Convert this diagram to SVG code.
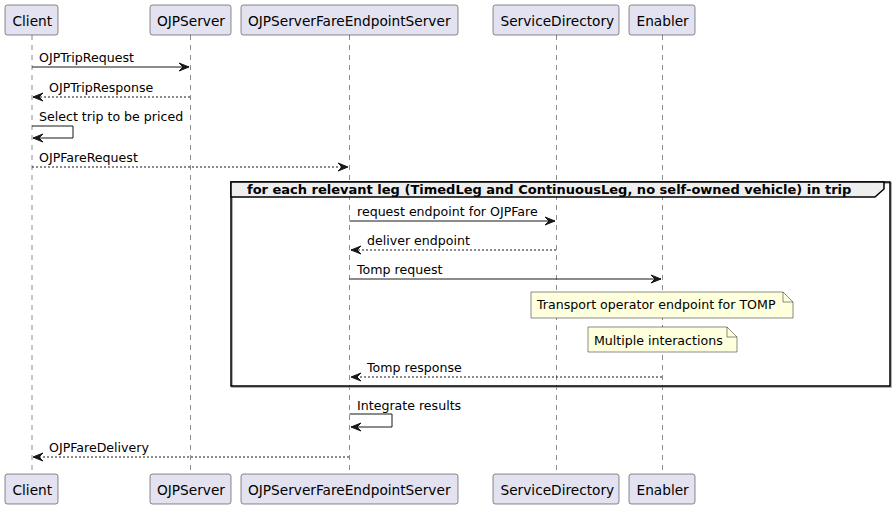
<svg xmlns="http://www.w3.org/2000/svg" width="895" height="509" viewBox="0 0 895 509">
<defs>
<style>
.part{fill:#E2E2F0;stroke:#181818;stroke-width:0.5}
.pt{font-family:"DejaVu Sans",sans-serif;font-size:13.7px;fill:#000}
.life{stroke:#181818;stroke-width:0.5;stroke-dasharray:5,5;fill:none}
.msg{stroke:#181818;stroke-width:1;fill:none}
.dash{stroke-dasharray:2,2}
.mt{font-family:"DejaVu Sans",sans-serif;font-size:12.6px;fill:#000}
.note{fill:#FEFFDD;stroke:#181818;stroke-width:0.5}
.frame{fill:none;stroke:#000;stroke-width:1.5}
.hdr{fill:#EEEEEE;stroke:#000;stroke-width:1.5}
.ht{font-family:"DejaVu Sans",sans-serif;font-size:13px;font-weight:bold;fill:#000}
</style>
<marker id="ah" markerUnits="userSpaceOnUse" markerWidth="14" markerHeight="12" refX="11" refY="5" orient="auto">
<path d="M1,1 L11,5 L1,9 L5,5 Z" fill="#181818" stroke="#181818" stroke-width="1" stroke-linejoin="miter"/>
</marker>
</defs>
<rect width="895" height="509" fill="#FFFFFF"/>

<g id="lifelines">
<line class="life" x1="32" y1="35" x2="32" y2="474"/>
<line class="life" x1="190.5" y1="35" x2="190.5" y2="474"/>
<line class="life" x1="349.5" y1="35" x2="349.5" y2="474"/>
<line class="life" x1="556.5" y1="35" x2="556.5" y2="474"/>
<line class="life" x1="662.5" y1="35" x2="662.5" y2="474"/>
</g>

<g id="loop">
<rect x="232" y="183" width="659" height="204" fill="none" stroke="#999" stroke-width="1.5"/>
<rect class="frame" x="231" y="182" width="659" height="204"/>
<polygon class="hdr" points="231,182 884,182 884,189 875,197 231,197"/>
<text class="ht" x="247" y="194">for each relevant leg (TimedLeg and ContinuousLeg, no self-owned vehicle) in trip</text>
</g>

<g id="Client">
<rect class="part" x="5" y="5" width="53" height="30" rx="2.5"/>
<text class="pt" x="12.5" y="25.5">Client</text>
<rect class="part" x="5" y="474" width="53" height="30" rx="2.5"/>
<text class="pt" x="12.5" y="494.5">Client</text>
</g>
<g id="OJPServer">
<rect class="part" x="150" y="5" width="81" height="30" rx="2.5"/>
<text class="pt" x="157" y="25.5">OJPServer</text>
<rect class="part" x="150" y="474" width="81" height="30" rx="2.5"/>
<text class="pt" x="157" y="494.5">OJPServer</text>
</g>
<g id="OJPServerFareEndpointServer">
<rect class="part" x="241" y="5" width="217" height="30" rx="2.5"/>
<text class="pt" x="248" y="25.5">OJPServerFareEndpointServer</text>
<rect class="part" x="241" y="474" width="217" height="30" rx="2.5"/>
<text class="pt" x="248" y="494.5">OJPServerFareEndpointServer</text>
</g>
<g id="ServiceDirectory">
<rect class="part" x="493" y="5" width="126" height="30" rx="2.5"/>
<text class="pt" x="500.5" y="25.5">ServiceDirectory</text>
<rect class="part" x="493" y="474" width="126" height="30" rx="2.5"/>
<text class="pt" x="500.5" y="494.5">ServiceDirectory</text>
</g>
<g id="Enabler">
<rect class="part" x="629" y="5" width="66" height="30" rx="2.5"/>
<text class="pt" x="636.5" y="25.5">Enabler</text>
<rect class="part" x="629" y="474" width="66" height="30" rx="2.5"/>
<text class="pt" x="636.5" y="494.5">Enabler</text>
</g>

<g id="note1">
<path class="note" d="M531,292 L783,292 L793,302 L793,318 L531,318 Z"/>
<path d="M783,292 L783,302 L793,302" fill="none" stroke="#181818" stroke-width="0.5"/>
<text class="mt" x="537" y="309">Transport operator endpoint for TOMP</text>
</g>
<g id="note2">
<path class="note" d="M588,327 L727,327 L737,337 L737,352 L588,352 Z"/>
<path d="M727,327 L727,337 L737,337" fill="none" stroke="#181818" stroke-width="0.5"/>
<text class="mt" x="594" y="345">Multiple interactions</text>
</g>

<g id="connectors">
<line class="msg" x1="32" y1="67" x2="189" y2="67" marker-end="url(#ah)"/>
<text class="mt" x="39" y="62">OJPTripRequest</text>

<line class="msg dash" x1="190" y1="97" x2="33" y2="97" marker-end="url(#ah)"/>
<text class="mt" x="49" y="92">OJPTripResponse</text>

<polyline class="msg" points="32,126 73,126 73,138 33,138" marker-end="url(#ah)"/>
<text class="mt" x="39" y="121">Select trip to be priced</text>

<line class="msg dash" x1="32" y1="167" x2="348" y2="167" marker-end="url(#ah)"/>
<text class="mt" x="39" y="162">OJPFareRequest</text>

<line class="msg" x1="349.5" y1="221" x2="555" y2="221" marker-end="url(#ah)"/>
<text class="mt" x="357" y="216">request endpoint for OJPFare</text>

<line class="msg dash" x1="556" y1="250" x2="351" y2="250" marker-end="url(#ah)"/>
<text class="mt" x="367" y="245">deliver endpoint</text>

<line class="msg" x1="349.5" y1="279" x2="661" y2="279" marker-end="url(#ah)"/>
<text class="mt" x="357" y="274">Tomp request</text>

<line class="msg dash" x1="662" y1="377" x2="351" y2="377" marker-end="url(#ah)"/>
<text class="mt" x="367" y="372">Tomp response</text>

<polyline class="msg" points="349.5,414 392,414 392,427 351,427" marker-end="url(#ah)"/>
<text class="mt" x="357" y="410">Integrate results</text>

<line class="msg dash" x1="349" y1="457" x2="33" y2="457" marker-end="url(#ah)"/>
<text class="mt" x="49" y="452">OJPFareDelivery</text>
</g>
</svg>
